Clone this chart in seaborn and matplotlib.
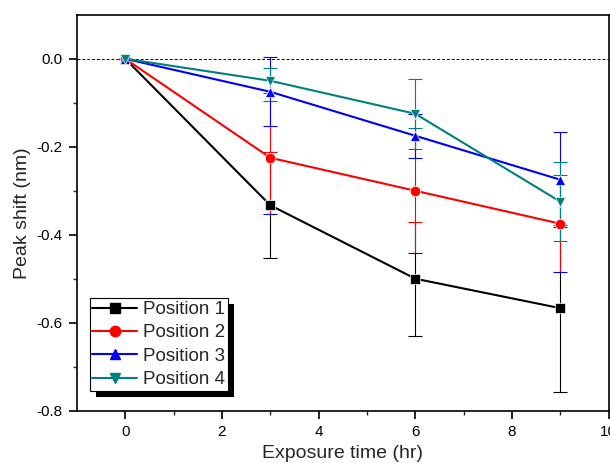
import matplotlib
matplotlib.use("Agg")
import matplotlib.pyplot as plt
import seaborn as sns
import pandas as pd
import numpy as np
from matplotlib.patches import Rectangle
from matplotlib.lines import Line2D

time_hr = [0, 3, 6, 9]
series_names = ["Position 1", "Position 2", "Position 3", "Position 4"]
pos1 = [0.0, -0.333, -0.500, -0.567]
pos2 = [0.0, -0.225, -0.300, -0.375]
pos3 = [0.0, -0.075, -0.175, -0.275]
pos4 = [0.0, -0.050, -0.125, -0.325]
err1 = [0.0, 0.120, 0.130, 0.190]
err2 = [0.0, 0.128, 0.142, 0.110]
err3 = [0.0, 0.078, 0.050, 0.108]
err4 = [0.0, 0.028, 0.080, 0.090]

values = [pos1, pos2, pos3, pos4]
errors = [err1, err2, err3, err4]
colors = ["#000000", "#ff0000", "#0000ff", "#008080"]
markers = ["s", "o", "^", "v"]

rows = []
for name, vals, errs in zip(series_names, values, errors):
    for t, v, e in zip(time_hr, vals, errs):
        rows.append({"time": t, "shift": v, "err": e, "series": name})
df = pd.DataFrame(rows)

sns.set_style("ticks")
plt.rcParams["font.family"] = ["Liberation Sans", "DejaVu Sans"]

fig = plt.figure(figsize=(6.10, 4.63), dpi=100)
ax = fig.add_axes([0.126, 0.113, 0.872, 0.855])

# error bars
for name, c in zip(series_names, colors):
    sub = df[df["series"] == name]
    ax.errorbar(sub["time"], sub["shift"], yerr=sub["err"], fmt="none",
                ecolor=c, elinewidth=0.8, capsize=5, capthick=0.8, zorder=2)

sns.lineplot(data=df, x="time", y="shift", hue="series", style="series",
             palette=dict(zip(series_names, colors)),
             markers=dict(zip(series_names, markers)),
             dashes=False, markersize=7.5, linewidth=1.5,
             markeredgewidth=0.5, ax=ax, zorder=3, legend=False)
for line, c in zip(ax.lines, colors):
    line.set_markeredgecolor(c)

ax.axhline(0, color="black", linestyle=(0, (3, 2)), linewidth=0.7, zorder=1)

ax.set_xlim(-1, 10)
ax.set_ylim(-0.8, 0.1)
ax.set_xticks([0, 2, 4, 6, 8, 10])
ax.set_xticks([1, 3, 5, 7, 9], minor=True)
ax.set_yticks([0.0, -0.2, -0.4, -0.6, -0.8])
ax.set_yticks([-0.1, -0.3, -0.5, -0.7], minor=True)
ax.set_yticklabels(["0.0", "-0.2", "-0.4", "-0.6", "-0.8"])
ax.tick_params(axis="both", which="major", direction="out", length=5.5,
               width=1.2, labelsize=11, colors="black", pad=5)
ax.tick_params(axis="both", which="minor", direction="out", length=3,
               width=1.0)
for s in ax.spines.values():
    s.set_linewidth(1.2)
    s.set_color("black")

ax.set_xlabel("Exposure time (hr)", fontsize=14, labelpad=4)
ax.set_ylabel("Peak shift (nm)", fontsize=14, labelpad=4)

handles = [Line2D([0], [0], color=c, marker=m, markersize=7.5, linewidth=1.5,
                  markeredgecolor=c)
           for c, m in zip(colors, markers)]
leg = ax.legend(handles, series_names, loc="lower left",
                bbox_to_anchor=(0.024, 0.05), fontsize=13.5, frameon=True,
                fancybox=False, edgecolor="black", framealpha=1,
                handlelength=2.4, handletextpad=0.3, labelspacing=0.33,
                borderpad=0.15, borderaxespad=0)
leg.get_frame().set_linewidth(0.8)
leg.set_zorder(10)

fig.canvas.draw()
bb = leg.get_window_extent()
shadow = Rectangle((bb.x0 + 6, bb.y0 - 6), bb.width, bb.height,
                   transform=None, facecolor="black", edgecolor="none",
                   zorder=9)
ax.add_artist(shadow)

fig.savefig("out.png", dpi=100)
